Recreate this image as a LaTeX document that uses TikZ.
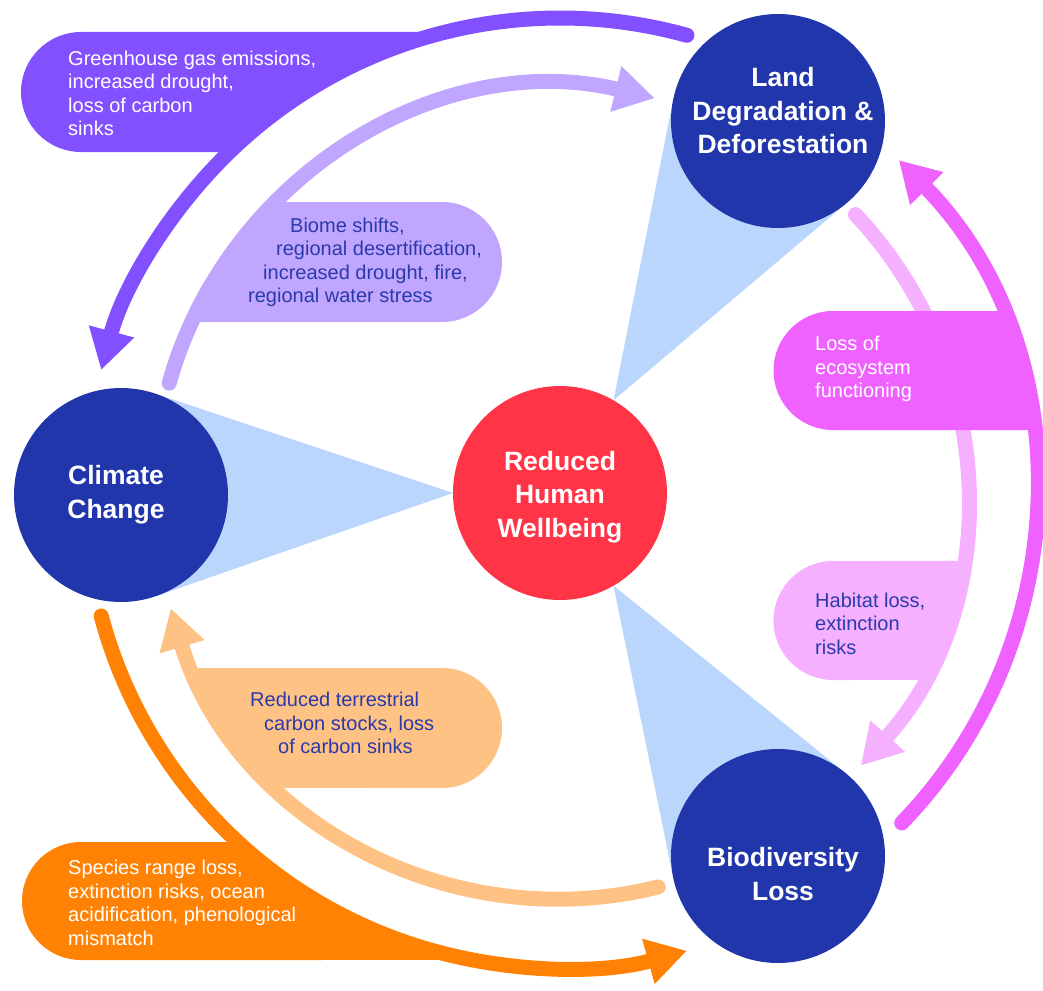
\documentclass[tikz,border=0pt]{standalone}
\usepackage{fontspec}
\setmainfont{Liberation Sans}
\usetikzlibrary{calc,arrows.meta}
\pgfdeclarelayer{bg}
\pgfsetlayers{bg,main}
\definecolor{cblue}{RGB}{33,54,171}
\definecolor{cred}{RGB}{255,52,70}
\definecolor{ccone}{RGB}{187,214,252}
\definecolor{cpurple}{RGB}{130,80,255}
\definecolor{clpurple}{RGB}{192,166,255}
\definecolor{cmag}{RGB}{240,98,255}
\definecolor{cpink}{RGB}{245,176,255}
\definecolor{corange}{RGB}{255,130,5}
\definecolor{clorange}{RGB}{255,194,133}
\definecolor{ctext}{RGB}{43,58,170}
\begin{document}
\begin{tikzpicture}[x=1pt,y=1pt,
  hub/.style={circle, fill=cblue, minimum size=214pt, inner sep=0pt, outer sep=0pt},
  title/.style={text=white, font=\fontsize{26.5}{33.5}\selectfont\bfseries, align=center, inner sep=0pt},
  lbl/.style={font=\fontsize{20}{23.5}\selectfont, align=left, inner sep=0pt, anchor=west},
  flow/.style={line width=15pt, line cap=round},
  arr/.style={-{Triangle[length=40pt,width=44pt]}},
]
\useasboundingbox (0,0) rectangle (1043,-990);
\coordinate (C) at (560,-493);

% circles
\node[hub] (land) at (778,-121) {};
\node[hub] (climate) at (121,-495) {};
\node[hub] (bio) at (778,-856) {};
\node[hub, fill=cred] (hw) at (560,-493) {};

% cones
\begin{pgfonlayer}{bg}
\fill[ccone] (hw.60) -- (tangent cs:node=land,point={(hw.60)},solution=1) -- (land.center)
  -- (tangent cs:node=land,point={(hw.60)},solution=2) -- cycle;
\fill[ccone] (hw.180) -- (tangent cs:node=climate,point={(hw.180)},solution=1) -- (climate.center)
  -- (tangent cs:node=climate,point={(hw.180)},solution=2) -- cycle;
\fill[ccone] (hw.-60) -- (tangent cs:node=bio,point={(hw.-60)},solution=1) -- (bio.center)
  -- (tangent cs:node=bio,point={(hw.-60)},solution=2) -- cycle;
\end{pgfonlayer}

% inner arcs
\draw[flow, clpurple, arr] ($(C)+(164.3:406)$) arc[start angle=164.3, end angle=76.5, radius=406];
\draw[flow, clorange, arr] ($(C)+(284:406)$) arc[start angle=284, end angle=196.5, radius=406];
\draw[flow, cpink, arr] ($(C)+(43.3:406)$) arc[start angle=43.3, end angle=-42.2, radius=406];

% outer arcs
\draw[flow, cpurple, arr] ($(C)+(74.5:475)$) arc[start angle=74.5, end angle=165, radius=475];
\draw[flow, corange, arr] ($(C)+(195:475)$) arc[start angle=195, end angle=285.5, radius=475];
\draw[flow, cmag, arr] ($(C)+(-44:475)$) arc[start angle=-44, end angle=44.5, radius=475];

% label boxes
\fill[cpurple] (81,-32) -- ($(C)+(103.94:475)$) arc[start angle=103.94, end angle=134.12, radius=475]
  -- (81,-152) arc[start angle=270, end angle=90, radius=60] -- cycle;
\fill[corange] (81,-842) -- ($(C)+(227.29:475)$) arc[start angle=227.29, end angle=259.47, radius=475]
  -- (81,-960) arc[start angle=270, end angle=90, radius=59] -- cycle;
\fill[cmag] (833,-311) -- ($(C)+(22.53:475)$) arc[start angle=22.53, end angle=7.62, radius=475]
  -- (833,-430) arc[start angle=270, end angle=90, radius=59.5] -- cycle;
\fill[clpurple] (442,-202) -- ($(C)+(134.21:406)$) arc[start angle=134.21, end angle=155.09, radius=406]
  -- (442,-322) arc[start angle=-90, end angle=90, radius=60] -- cycle;
\fill[clorange] (442,-668) -- ($(C)+(205.54:406)$) arc[start angle=205.54, end angle=226.60, radius=406]
  -- (442,-788) arc[start angle=-90, end angle=90, radius=60] -- cycle;
\fill[cpink] (833,-561) -- ($(C)+(-9.64:406)$) arc[start angle=-9.64, end angle=-27.42, radius=406]
  -- (833,-680) arc[start angle=270, end angle=90, radius=59.5] -- cycle;

% titles
\node[title] (tland) at (783,-111) {Land\\Degradation \&\\Deforestation};
\node[title] (tclimate) at (116,-494.5) {Climate\\Change};
\node[title] (tbio) at (783,-874) {Biodiversity\\Loss};
\node[title] (thw) at (560,-497) {Reduced\\Human\\Wellbeing};

% labels
\node[lbl, text=white] (l1) at (68,-93.5) {Greenhouse gas emissions,\\increased drought,\\loss of carbon\\sinks};
\node[lbl, text=ctext] (l2) at (248,-262.5) {\hspace*{42pt}Biome shifts,\\\hspace*{28pt}regional desertification,\\\hspace*{15pt}increased drought, fire,\\regional water stress};
\node[lbl, text=ctext] (l3) at (250,-723) {Reduced terrestrial\\\hspace*{14pt}carbon stocks, loss\\\hspace*{28pt}of carbon sinks};
\node[lbl, text=white] (l4) at (68,-903) {Species range loss,\\extinction risks, ocean\\acidification, phenological\\mismatch};
\node[lbl, text=white] (l5) at (815,-369) {Loss of\\ecosystem\\functioning};
\node[lbl, text=ctext] (l6) at (815,-623.5) {Habitat loss,\\extinction\\risks};
\end{tikzpicture}
\end{document}
